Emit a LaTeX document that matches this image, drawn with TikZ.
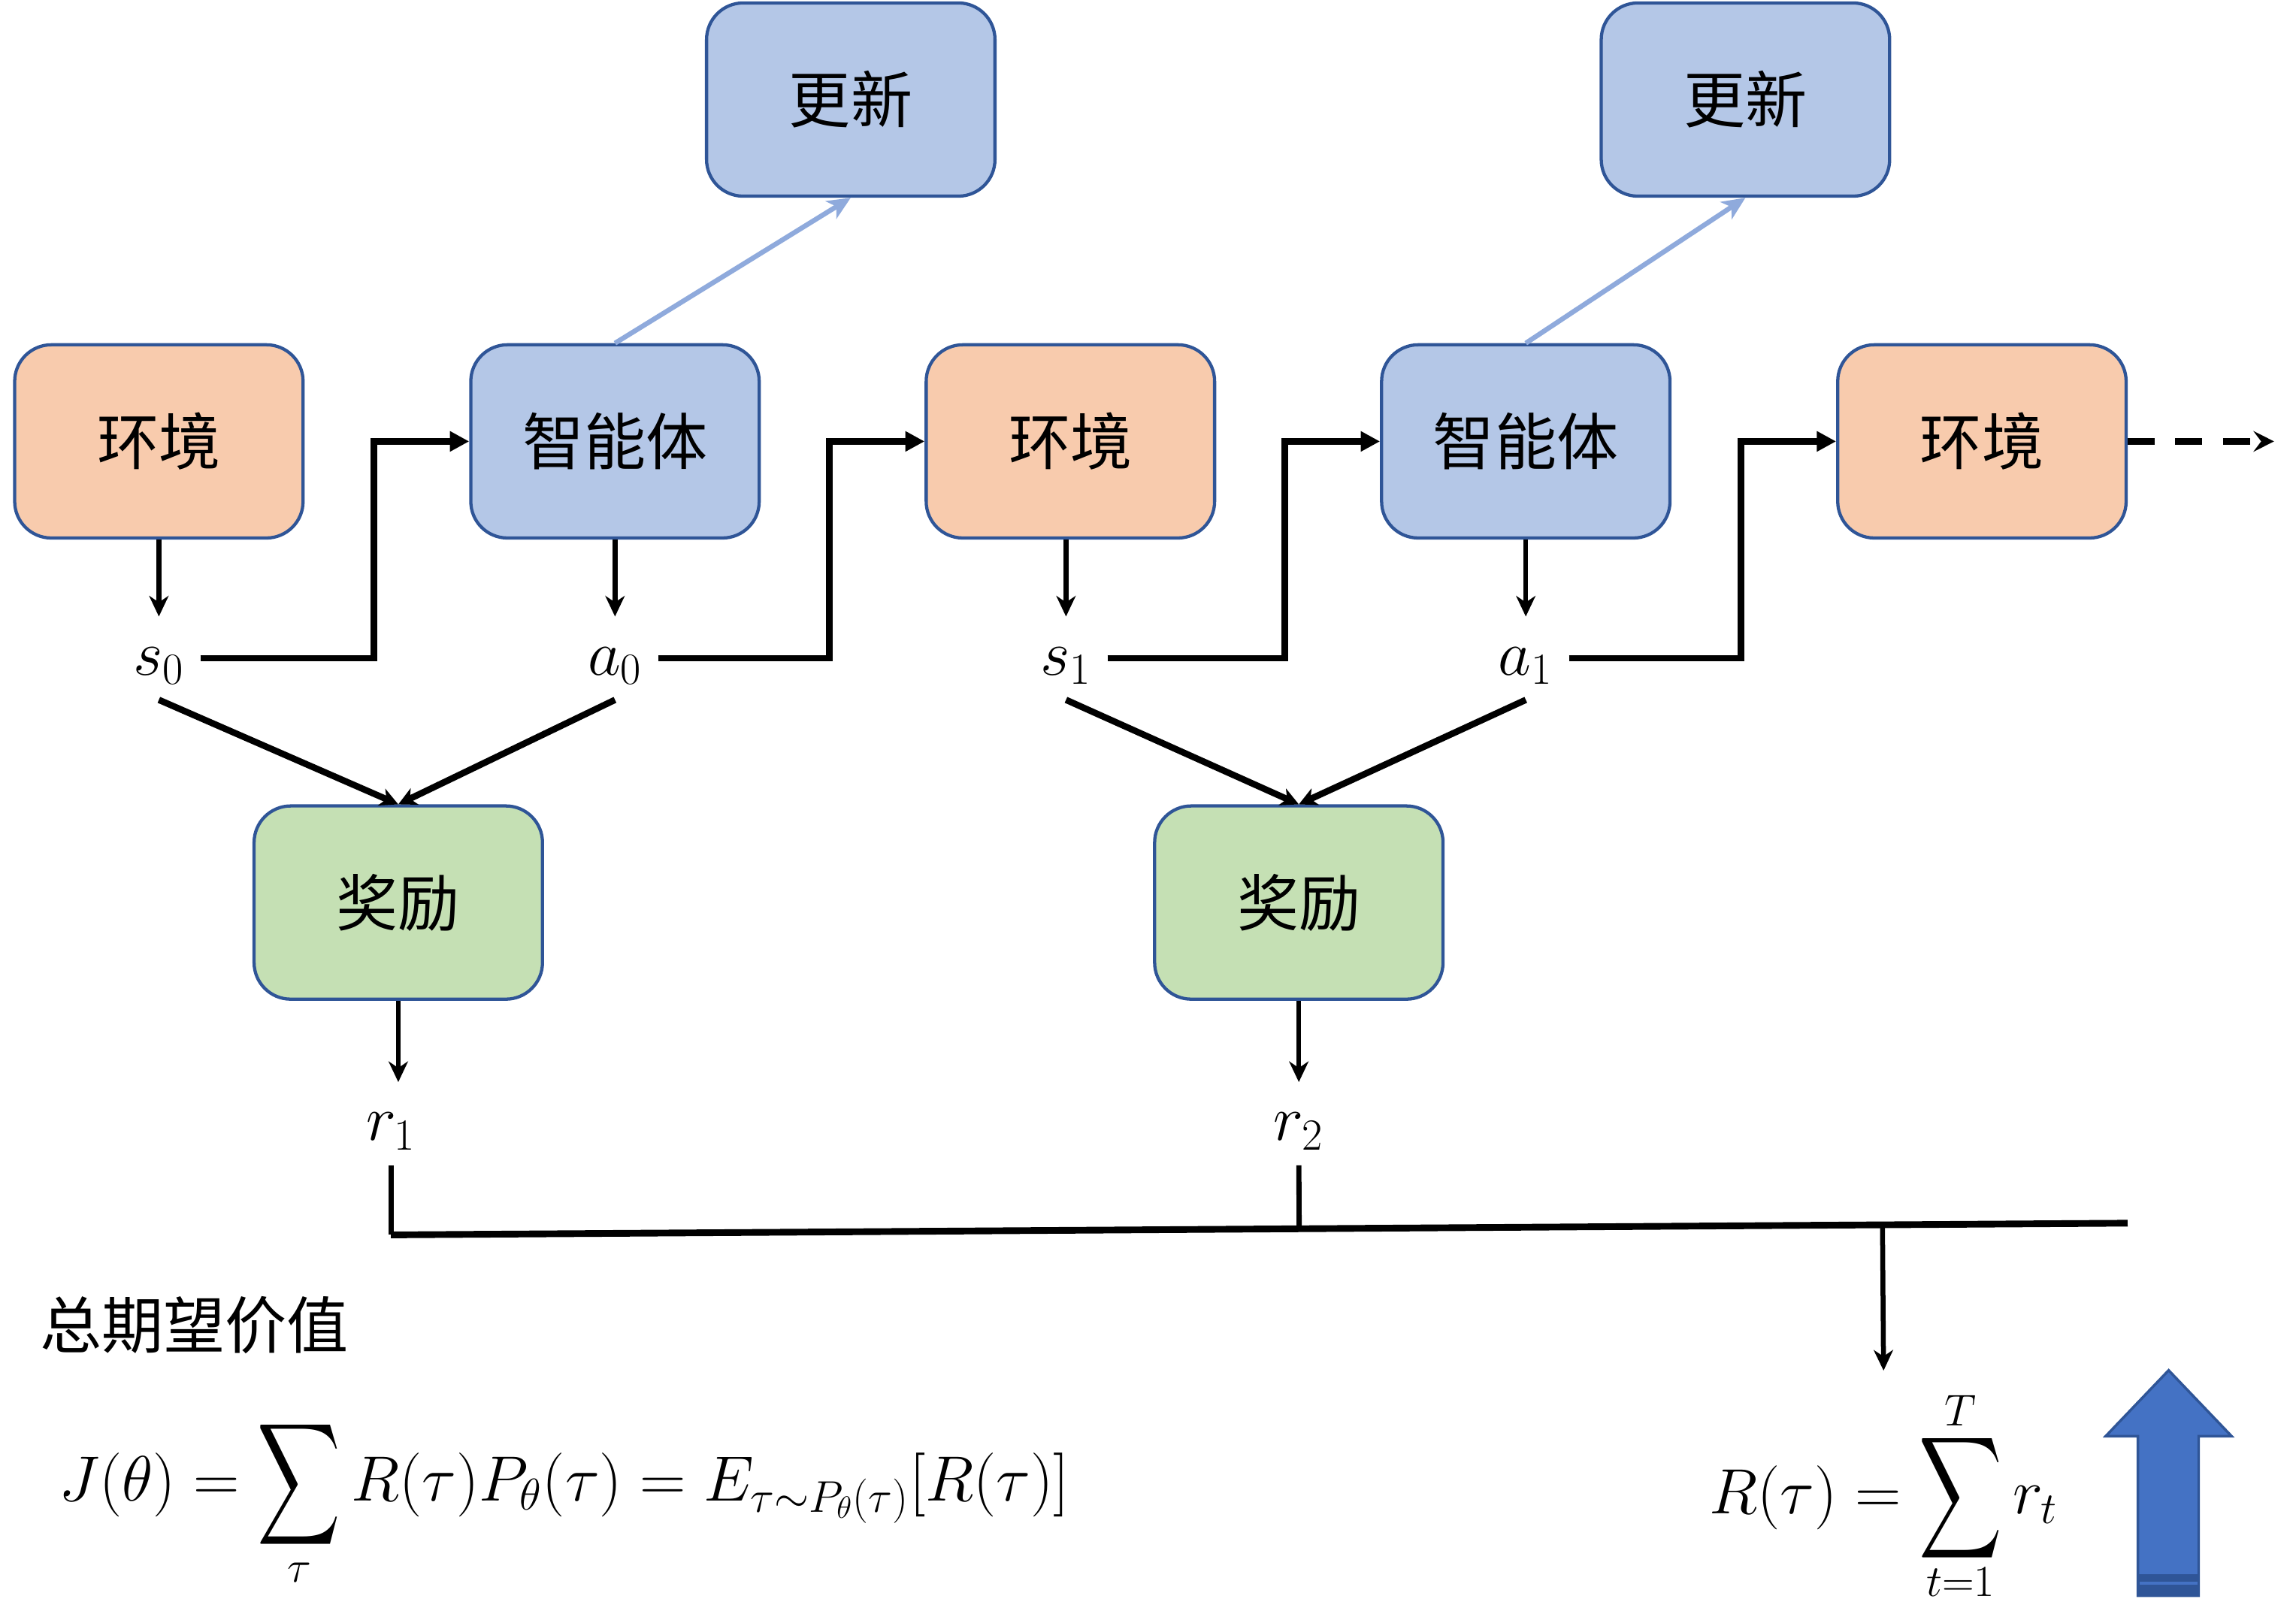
\documentclass[tikz,border=0pt]{standalone}
\usepackage{fontspec}
\newfontfamily\cjk{Noto Sans CJK SC}
\usepackage{amsmath}
\usepackage{tikz}
\usetikzlibrary{arrows.meta,positioning,calc}

\definecolor{envfill}{HTML}{F8CBAD}
\definecolor{agentfill}{HTML}{B4C7E7}
\definecolor{rewfill}{HTML}{C5E0B4}
\definecolor{boxline}{HTML}{2F5597}
\definecolor{linkblue}{HTML}{8FAADC}
\definecolor{bigblue}{HTML}{4472C4}

\newcommand{\Bsum}{\mathop{\vcenter{\kern-3.5pt\hbox{\scalebox{0.9}[1.33]{$\displaystyle\sum$}}\kern-3.5pt}}\limits}

\begin{document}
\begin{tikzpicture}[x=0.02cm,y=-0.02cm,
  box/.style={draw=boxline,line width=1.25pt,rounded corners=0.5cm,minimum width=3.94cm,minimum height=2.64cm,font=\cjk\fontsize{24}{24}\selectfont},
  envbox/.style={box,fill=envfill},
  agentbox/.style={box,fill=agentfill},
  rewbox/.style={box,fill=rewfill},
  lbl/.style={font=\fontsize{24}{24}\selectfont,inner xsep=6pt,inner ysep=9.5pt,text height=13pt,text depth=0pt,anchor=base},
  formula/.style={font=\fontsize{24}{24}\selectfont,inner sep=0pt,anchor=base west},
  vline/.style={line width=1.9pt,-{Stealth[length=8pt,width=7.5pt,inset=2.5pt]}},
  elbow/.style={line width=2.5pt,-{Triangle[length=7.5pt,width=7.5pt]}},
  diag/.style={line width=2.5pt,-{Stealth[length=7pt,width=7pt,inset=2pt]}},
  uplink/.style={linkblue,line width=1.9pt,-{Stealth[length=9pt,width=8pt,inset=2.5pt]}},
  cont/.style={line width=2.5pt,dash pattern=on 10.5pt off 8pt,-{Stealth[length=8pt,width=8pt,inset=3pt]}},
  rline/.style={line width=2pt},
  sumbar/.style={line width=2.6pt}]
\useasboundingbox (0,0) rectangle (1568,1098);

% boxes
\node[envbox] (env1) at (108.5,301.5) {环境};
\node[agentbox] (agent1) at (420,301.5) {智能体};
\node[envbox] (env2) at (731,301.5) {环境};
\node[agentbox] (agent2) at (1042,301.5) {智能体};
\node[envbox] (env3) at (1353.5,301.5) {环境};
\node[agentbox] (upd1) at (581,68) {更新};
\node[agentbox] (upd2) at (1192,68) {更新};
\node[rewbox] (rew1) at (272,616.5) {奖励};
\node[rewbox] (rew2) at (887,616.5) {奖励};

% states, actions, rewards
\node[lbl] (s0) at (108.5,461) {$s_0$};
\node[lbl] (a0) at (420,461) {$a_0$};
\node[lbl] (s1) at (728,461) {$s_1$};
\node[lbl] (a1) at (1042,461) {$a_1$};
\node[lbl] (r1) at (267,779) {$r_1$};
\node[lbl] (r2) at (887,779) {$r_2$};

\draw[vline] (env1) -- (s0);
\draw[vline] (agent1) -- (a0);
\draw[vline] (env2.south -| s1) -- (s1);
\draw[vline] (agent2) -- (a1);

\draw[elbow] (s0.east) -| ([xshift=-1.3cm]agent1.west) -- (agent1.west);
\draw[elbow] (a0.east) -| ([xshift=-1.3cm]env2.west) -- (env2.west);
\draw[elbow] (s1.east) -| ([xshift=-1.3cm]agent2.west) -- (agent2.west);
\draw[elbow] (a1.east) -| ([xshift=-1.3cm]env3.west) -- (env3.west);
\coordinate (more) at (1553,301.5);
\draw[cont] (env3.east) -- (more);

\draw[uplink] (agent1.north) -- (upd1.south);
\draw[uplink] (agent2.north) -- (upd2.south);

\draw[diag] (s0.south) -- (rew1.north);
\draw[diag] (a0.south) -- (rew1.north);
\draw[diag] (s1.south) -- (rew2.north);
\draw[diag] (a1.south) -- (rew2.north);

\draw[vline] (rew1) -- (rew1 |- r1.north);
\draw[vline] (rew2) -- (r2);

% sum of rewards
\node[formula] (Rsum) at (1167,1034) {$R(\tau)=\Bsum_{t=1}^{T} r_t$};
\coordinate (barL) at (267,843.5);
\coordinate (barR) at (1453,835.5);
\draw[sumbar] (barL) -- (barR);
\draw[rline] (r1.south) -- (barL);
\draw[rline] (r2.south) -- ($(barL)!(r2.south)!(barR)$);
\coordinate (tap) at ($(barL)!(Rsum.north)!(barR)$);
\draw[vline,shorten >=7pt] (tap) -- (Rsum.north);

\node[font=\cjk\fontsize{24}{24}\selectfont,anchor=west,inner sep=0pt] (jtitle) at (27,905) {总期望价值};
\node[formula] (Jval) at (40,1025) {$J(\theta)=\Bsum_{\tau} R(\tau)P_\theta(\tau)=E_{\tau\sim P_\theta(\tau)}[R(\tau)]$};

% big arrow
\filldraw[fill=bigblue,draw=boxline,line width=1pt] (1460,1090) -- (1460,981) -- (1438,981) -- (1481,936) -- (1524,981) -- (1501.5,981) -- (1501.5,1090) -- cycle;
\fill[boxline] (1460,1075.5) rectangle (1501.5,1090);
\draw[bigblue,line width=1.1pt] (1461,1081.5) -- (1500.5,1081.5);

\end{tikzpicture}
\end{document}
